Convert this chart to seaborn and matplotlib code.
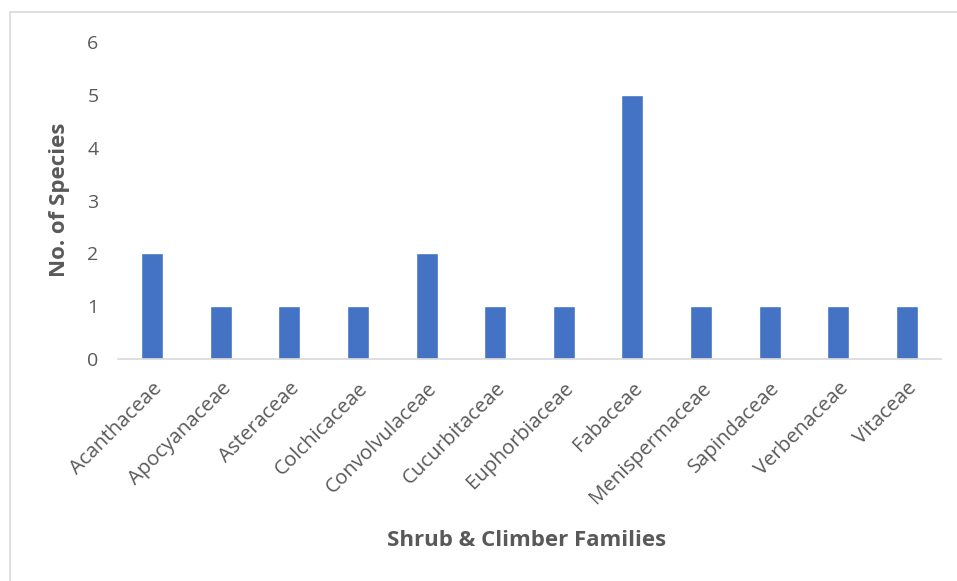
import matplotlib
matplotlib.use("Agg")
import matplotlib.pyplot as plt
import seaborn as sns
import pandas as pd
from matplotlib.patches import Rectangle

families = ["Acanthaceae", "Apocyanaceae", "Asteraceae", "Colchicaceae",
            "Convolvulaceae", "Cucurbitaceae", "Euphorbiaceae", "Fabaceae",
            "Menispermaceae", "Sapindaceae", "Verbenaceae", "Vitaceae"]
species = [2, 1, 1, 1, 2, 1, 1, 5, 1, 1, 1, 1]
yticks = [0, 1, 2, 3, 4, 5, 6]

df = pd.DataFrame({"Family": families, "Species": species})

sns.set_theme(style="white")
plt.rcParams["font.family"] = ["Open Sans", "DejaVu Sans"]

W, H = 957, 581
fig = plt.figure(figsize=(W / 100, H / 100), dpi=100)
x0, x1, ytop, ybot = 118, 941, 42, 359
ax = fig.add_axes([x0 / W, 1 - ybot / H, (x1 - x0) / W, (ybot - ytop) / H])

sns.barplot(data=df, x="Family", y="Species", color="#4472C4",
            width=0.32, saturation=1, ax=ax)

ax.set_ylim(0, 6)
ax.set_xlim(-0.5, len(families) - 0.5)
ax.set_yticks(yticks)
ax.tick_params(axis="y", length=0, pad=14, labelsize=14, labelcolor="#595959")
ax.tick_params(axis="x", length=0, pad=14, labelsize=14.7, labelcolor="#595959")
plt.setp(ax.get_xticklabels(), rotation=45, ha="right", rotation_mode="anchor")

for side in ["top", "right", "left"]:
    ax.spines[side].set_visible(False)
ax.spines["bottom"].set_color("#D9D9D9")
ax.spines["bottom"].set_linewidth(1.2)

ax.set_ylabel("No. of Species", fontsize=16, fontweight="bold", color="#595959")
ax.set_xlabel("Shrub & Climber Families", fontsize=16, fontweight="bold",
              color="#595959")
ax.yaxis.set_label_coords(-(x0 - 60) / (x1 - x0), (ybot - 200) / (ybot - ytop))
ax.xaxis.set_label_coords((527 - x0) / (x1 - x0), -(540 - ybot) / (ybot - ytop))
ax.yaxis.label.set_va("center")
ax.xaxis.label.set_va("center")

# chart frame
fig.patches.append(Rectangle((9.5 / W, -0.1), 1.2, 1.1 - 12.5 / H,
                             transform=fig.transFigure, fill=False,
                             edgecolor="#D9D9D9", linewidth=1.2))

fig.savefig("out.png", dpi=100)
